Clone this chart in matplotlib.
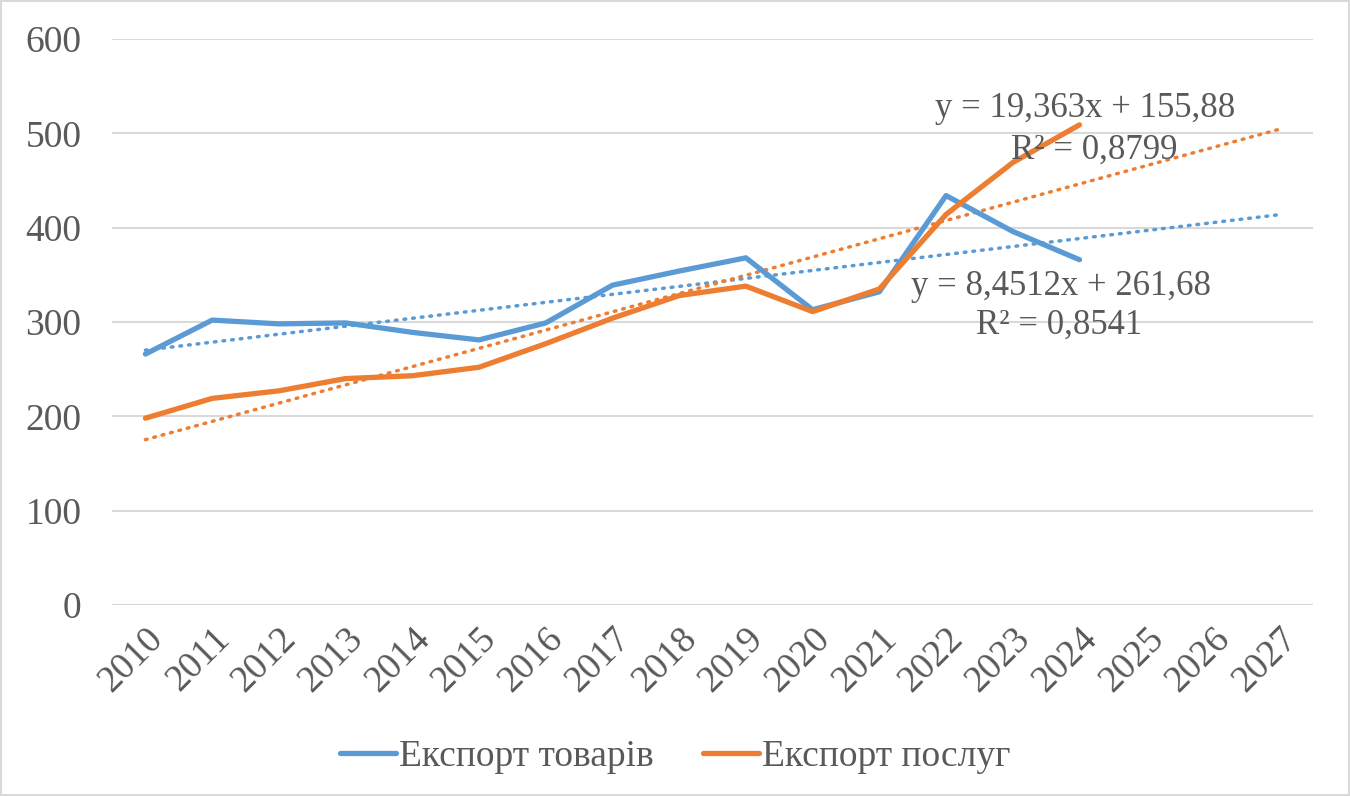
import matplotlib.pyplot as plt
import numpy as np

# data
years = [str(y) for y in range(2010, 2028)]
goods = [266, 302, 298, 299, 289, 281, 299, 339, 354, 368, 313, 332, 434, 396, 366]
services = [198, 219, 227, 240, 243, 252, 277, 304, 328, 338, 311, 335, 414, 469, 509]
goods_trend = (8.4512, 261.68)
services_trend = (19.363, 155.88)

blue = "#5b9bd5"
orange = "#ed7d31"
grey = "#595959"

plt.rcParams['font.family'] = ['Liberation Serif', 'DejaVu Serif']

fig = plt.figure(figsize=(13.5, 7.96), dpi=100)
fig.patch.set_edgecolor("#d9d9d9")
fig.patch.set_linewidth(1.5)
ax = fig.add_axes([0.083, 0.240, 0.8896, 0.711])

x_all = np.arange(len(years))
x_data = np.arange(len(goods))

ax.plot(x_data, goods, color=blue, lw=3.8, solid_capstyle="round", label="Експорт товарів", zorder=3)
ax.plot(x_data, services, color=orange, lw=3.8, solid_capstyle="round", label="Експорт послуг", zorder=3)

# linear trendlines, forecast 3 periods forward
for (k, b), c in [(goods_trend, blue), (services_trend, orange)]:
    ax.plot(x_all, k * (x_all + 1) + b, color=c, lw=2.5, linestyle=(0, (0.5, 2)),
            dash_capstyle="round", zorder=2)

ax.text(0.81, 0.878, "y = 19,363x + 155,88", transform=ax.transAxes, ha="center",
        va="center", fontsize=25, color=grey)
ax.text(0.818, 0.804, "R² = 0,8799", transform=ax.transAxes, ha="center",
        va="center", fontsize=25, color=grey)
ax.text(0.790, 0.562, "y = 8,4512x + 261,68", transform=ax.transAxes, ha="center",
        va="center", fontsize=25, color=grey)
ax.text(0.789, 0.495, "R² = 0,8541", transform=ax.transAxes, ha="center",
        va="center", fontsize=25, color=grey)

ax.set_xlim(-0.5, len(years) - 0.5)
ax.set_ylim(0, 600)
ax.set_yticks(range(0, 601, 100))
ax.set_xticks(x_all)
ax.set_xticklabels(years, rotation=45, ha="right", rotation_mode="anchor")
ax.tick_params(axis="both", length=0, labelsize=27, labelcolor=grey)
ax.tick_params(axis="y", pad=22)
ax.tick_params(axis="x", pad=12)
ax.grid(axis="y", color="#d9d9d9", lw=1.5)
ax.set_axisbelow(True)
for s in ax.spines.values():
    s.set_visible(False)
ax.axhline(0, color="#d9d9d9", lw=1.5, zorder=1)

fig.legend(loc="center", bbox_to_anchor=(0.5, 0.049), ncol=2, frameon=False,
           fontsize=27, labelcolor=grey, handlelength=1.5, handletextpad=0.08,
           columnspacing=1.3)

fig.savefig("out.png", dpi=100)
